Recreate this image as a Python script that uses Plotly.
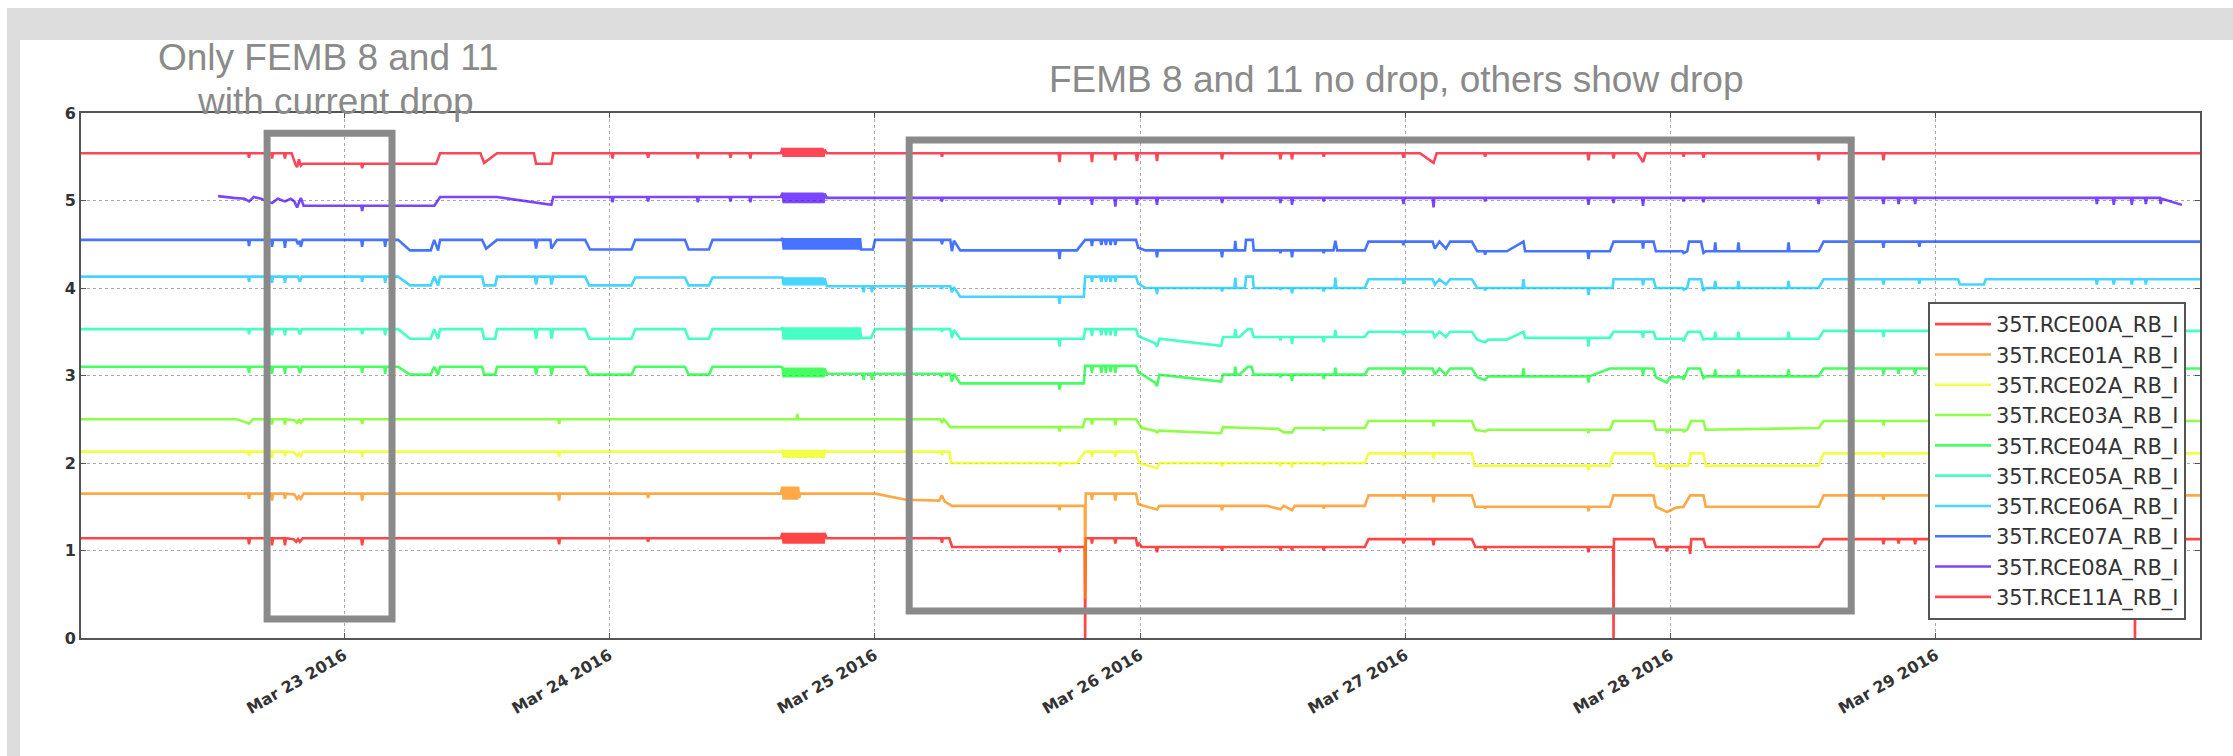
import plotly.graph_objects as go

# ---------------- data ----------------
NAMES = ["35T.RCE00A_RB_I", "35T.RCE01A_RB_I", "35T.RCE02A_RB_I", "35T.RCE03A_RB_I",
         "35T.RCE04A_RB_I", "35T.RCE05A_RB_I", "35T.RCE06A_RB_I", "35T.RCE07A_RB_I",
         "35T.RCE08A_RB_I", "35T.RCE11A_RB_I"]
COLORS = ["#ff0000", "#ff8900", "#ecff00", "#63ff00", "#00ff26",
          "#00ffae", "#00c6ff", "#003eff", "#4800ff", "#ff0018"]

X_TICKS = ["2016-03-23", "2016-03-24", "2016-03-25", "2016-03-26",
           "2016-03-27", "2016-03-28", "2016-03-29"]
X_LABELS = ["Mar 23 2016", "Mar 24 2016", "Mar 25 2016", "Mar 26 2016",
            "Mar 27 2016", "Mar 28 2016", "Mar 29 2016"]
Y_TICKS = [0, 1, 2, 3, 4, 5, 6]

# sample times of the noisy stretch on Mar 24 (6-minute samples)
BURST_T = ["24 15:40", "24 15:46", "24 15:52", "24 15:58", "24 16:04", "24 16:10", "24 16:16",
           "24 16:22", "24 16:28", "24 16:34", "24 16:40", "24 16:46", "24 16:52", "24 16:58",
           "24 17:04", "24 17:10", "24 17:16", "24 17:22", "24 17:28", "24 17:34", "24 17:40",
           "24 17:46", "24 17:52", "24 17:58", "24 18:04", "24 18:10", "24 18:16", "24 18:22",
           "24 18:28", "24 18:34", "24 18:40", "24 18:46", "24 18:52", "24 18:58", "24 19:04",
           "24 19:10", "24 19:16", "24 19:22", "24 19:28"]
BURST_T_LONG = BURST_T + ["24 19:34", "24 19:40", "24 19:46", "24 19:52", "24 19:58", "24 20:04",
                          "24 20:10", "24 20:16", "24 20:22", "24 20:28", "24 20:34", "24 20:40",
                          "24 20:46", "24 20:52", "24 20:58", "24 21:04", "24 21:10", "24 21:16",
                          "24 21:22", "24 21:28", "24 21:34", "24 21:40", "24 21:46", "24 21:52",
                          "24 21:58", "24 22:04", "24 22:10", "24 22:16", "24 22:22", "24 22:28",
                          "24 22:34", "24 22:40", "24 22:46"]

# ---- RCE00A
S00_A = [("22 00:00", 1.14), ("22 15:19", 1.14), ("22 15:24", 1.07), ("22 15:29", 1.14),
         ("22 17:24", 1.14), ("22 17:29", 1.06), ("22 17:34", 1.14), ("22 18:34", 1.14), ("22 18:39", 1.06),
         ("22 18:44", 1.14), ("22 19:25", 1.13), ("22 19:40", 1.10), ("22 19:50", 1.13), ("22 20:00", 1.10),
         ("22 20:15", 1.14), ("23 01:33", 1.14), ("23 01:38", 1.06), ("23 01:43", 1.14),
         ("23 19:22", 1.14), ("23 19:27", 1.07), ("23 19:32", 1.14), ("24 03:25", 1.14), ("24 03:30", 1.10),
         ("24 03:35", 1.14), ("24 15:30", 1.14)]
S00_BURST = [1.20, 1.08, 1.20, 1.08, 1.20, 1.08, 1.20, 1.08, 1.20, 1.08,
             1.20, 1.08, 1.20, 1.08, 1.20, 1.08, 1.20, 1.08, 1.20, 1.08,
             1.20, 1.08, 1.20, 1.08, 1.20, 1.08, 1.20, 1.08, 1.20, 1.08,
             1.20, 1.08, 1.20, 1.08, 1.20, 1.08, 1.20, 1.08, 1.20]
S00_B = [("24 19:40", 1.14), ("25 06:00", 1.14), ("25 06:05", 1.09), ("25 06:10", 1.14),
         ("25 06:45", 1.14), ("25 07:00", 1.04), ("25 16:38", 1.04), ("25 16:43", 0.98), ("25 16:48", 1.04),
         ("25 19:00", 1.04), ("25 19:02", 0.0), ("25 19:05", 1.14), ("25 19:34", 1.14), ("25 19:39", 1.08),
         ("25 19:44", 1.14), ("25 21:41", 1.14), ("25 21:46", 1.08), ("25 21:51", 1.14),
         ("25 23:38", 1.14), ("25 23:45", 1.05), ("25 23:55", 1.08), ("26 00:10", 1.04),
         ("26 01:27", 1.04), ("26 01:32", 0.98), ("26 01:37", 1.04), ("26 07:20", 1.04), ("26 07:25", 1.00),
         ("26 07:30", 1.04), ("26 12:37", 1.04), ("26 12:42", 1.00), ("26 12:47", 1.04),
         ("26 13:40", 1.04), ("26 13:45", 1.00), ("26 13:50", 1.04), ("26 16:32", 1.04), ("26 16:37", 1.00),
         ("26 16:42", 1.04), ("26 20:20", 1.04), ("26 20:40", 1.13), ("26 23:45", 1.13), ("26 23:50", 1.08),
         ("26 23:55", 1.13), ("27 02:28", 1.13), ("27 02:33", 1.06), ("27 02:38", 1.13),
         ("27 06:01", 1.13), ("27 06:20", 1.04), ("27 07:08", 1.04), ("27 07:13", 1.00), ("27 07:18", 1.04),
         ("27 16:29", 1.04), ("27 16:34", 0.98), ("27 16:39", 1.04), ("27 18:48", 1.04), ("27 18:50", 0.0),
         ("27 18:52", 1.13), ("27 22:27", 1.13), ("27 22:40", 1.04), ("27 23:35", 1.04), ("27 23:40", 0.99),
         ("27 23:45", 1.04), ("28 01:40", 1.04), ("28 01:46", 0.96), ("28 01:52", 1.13),
         ("28 02:58", 1.13), ("28 03:10", 1.04), ("28 13:23", 1.04), ("28 13:50", 1.13),
         ("28 19:10", 1.13), ("28 19:15", 1.07), ("28 19:20", 1.13), ("28 20:32", 1.13), ("28 20:37", 1.08),
         ("28 20:42", 1.13), ("28 22:02", 1.13), ("28 22:07", 1.07), ("28 22:12", 1.13),
         ("29 17:58", 1.13), ("29 18:00", 0.0), ("29 18:02", 1.13), ("30 00:00", 1.13)]

# ---- RCE01A
S01_A = [("22 00:00", 1.65), ("22 15:19", 1.65), ("22 15:24", 1.59), ("22 15:29", 1.65),
         ("22 17:24", 1.65), ("22 17:29", 1.57), ("22 17:34", 1.65), ("22 18:34", 1.65), ("22 18:39", 1.59),
         ("22 18:44", 1.65), ("22 19:30", 1.64), ("22 19:45", 1.59), ("22 19:55", 1.62), ("22 20:05", 1.59),
         ("22 20:20", 1.65), ("23 01:33", 1.65), ("23 01:38", 1.57), ("23 01:43", 1.65),
         ("23 19:22", 1.65), ("23 19:27", 1.57), ("23 19:32", 1.65), ("24 03:25", 1.65), ("24 03:30", 1.60),
         ("24 03:35", 1.65), ("24 15:30", 1.65)]
S01_BURST = [1.73, 1.58, 1.73, 1.58, 1.73, 1.58, 1.73, 1.58, 1.73, 1.58,
             1.73, 1.58, 1.73, 1.58, 1.73, 1.60]
S01_B = [("24 17:16", 1.65), ("25 00:02", 1.65), ("25 02:50", 1.58), ("25 05:50", 1.57),
         ("25 06:04", 1.63), ("25 06:20", 1.56), ("25 06:59", 1.51), ("25 16:38", 1.51), ("25 16:43", 1.46),
         ("25 16:48", 1.51), ("25 19:00", 1.51), ("25 19:02", 0.45), ("25 19:05", 1.65),
         ("25 19:34", 1.65), ("25 19:39", 1.58), ("25 19:44", 1.65), ("25 21:41", 1.65), ("25 21:46", 1.57),
         ("25 21:51", 1.65), ("25 23:38", 1.65), ("25 23:50", 1.53), ("26 01:32", 1.47), ("26 01:45", 1.51),
         ("26 07:20", 1.51), ("26 07:25", 1.46), ("26 07:30", 1.51), ("26 11:30", 1.51), ("26 12:42", 1.47),
         ("26 13:00", 1.51), ("26 13:45", 1.46), ("26 14:00", 1.51), ("26 16:32", 1.51), ("26 16:37", 1.48),
         ("26 16:42", 1.51), ("26 20:20", 1.51), ("26 20:40", 1.63), ("26 23:45", 1.63), ("26 23:50", 1.59),
         ("26 23:55", 1.63), ("27 02:28", 1.63), ("27 02:33", 1.55), ("27 02:38", 1.63),
         ("27 06:01", 1.63), ("27 06:20", 1.50), ("27 07:08", 1.50), ("27 07:13", 1.48), ("27 07:18", 1.50),
         ("27 16:29", 1.50), ("27 16:34", 1.45), ("27 16:39", 1.50), ("27 18:30", 1.50), ("27 18:50", 1.63),
         ("27 22:27", 1.63), ("27 22:40", 1.50), ("27 23:40", 1.44), ("28 00:30", 1.49), ("28 01:10", 1.50),
         ("28 01:46", 1.63), ("28 02:58", 1.63), ("28 03:10", 1.50), ("28 13:23", 1.50), ("28 13:50", 1.63),
         ("28 19:10", 1.63), ("28 19:15", 1.58), ("28 19:20", 1.63), ("30 00:00", 1.63)]

# ---- RCE02A
S02_A = [("22 00:00", 2.13), ("22 15:19", 2.13), ("22 15:24", 2.08), ("22 15:29", 2.13),
         ("22 17:24", 2.13), ("22 17:29", 2.06), ("22 17:34", 2.13), ("22 18:34", 2.13), ("22 18:39", 2.08),
         ("22 18:44", 2.13), ("22 19:30", 2.12), ("22 19:45", 2.08), ("22 19:55", 2.11), ("22 20:05", 2.08),
         ("22 20:20", 2.13), ("23 01:33", 2.13), ("23 01:38", 2.07), ("23 01:43", 2.13),
         ("23 19:22", 2.13), ("23 19:27", 2.07), ("23 19:32", 2.13), ("24 15:30", 2.13)]
S02_BURST = [2.15, 2.06, 2.15, 2.06, 2.15, 2.06, 2.15, 2.06, 2.15, 2.06,
             2.15, 2.06, 2.15, 2.06, 2.15, 2.06, 2.15, 2.06, 2.15, 2.06,
             2.15, 2.06, 2.15, 2.06, 2.15, 2.06, 2.15, 2.06, 2.15, 2.06,
             2.15, 2.06, 2.15, 2.06, 2.15, 2.06, 2.15, 2.06, 2.14]
S02_B = [("24 19:40", 2.13), ("25 06:00", 2.13), ("25 06:05", 2.09), ("25 06:10", 2.13),
         ("25 06:45", 2.13), ("25 06:55", 2.00), ("25 16:38", 2.00), ("25 16:43", 1.96), ("25 16:48", 2.00),
         ("25 18:17", 2.00), ("25 19:02", 2.13), ("25 19:34", 2.13), ("25 19:39", 2.07), ("25 19:44", 2.13),
         ("25 21:41", 2.13), ("25 21:46", 2.07), ("25 21:51", 2.13), ("25 23:38", 2.13), ("25 23:55", 2.00),
         ("26 01:32", 1.94), ("26 01:45", 2.00), ("26 07:20", 2.00), ("26 07:25", 1.96), ("26 07:30", 2.00),
         ("26 12:37", 2.00), ("26 12:42", 1.96), ("26 12:47", 2.00), ("26 13:40", 2.00), ("26 13:45", 1.95),
         ("26 13:50", 2.00), ("26 16:32", 2.00), ("26 16:37", 1.97), ("26 16:42", 2.00),
         ("26 20:20", 2.00), ("26 20:40", 2.11), ("26 23:45", 2.11), ("26 23:50", 2.08), ("26 23:55", 2.11),
         ("27 02:28", 2.11), ("27 02:33", 2.05), ("27 02:38", 2.11), ("27 06:01", 2.11), ("27 06:15", 1.97),
         ("27 16:29", 1.97), ("27 16:34", 1.92), ("27 16:39", 1.97), ("27 18:30", 1.97), ("27 18:50", 2.11),
         ("27 22:27", 2.11), ("27 22:40", 1.97), ("27 23:35", 1.97), ("27 23:40", 1.93), ("27 23:50", 1.97),
         ("28 01:35", 1.97), ("28 01:50", 2.11), ("28 02:58", 2.11), ("28 03:10", 1.97),
         ("28 13:23", 1.97), ("28 13:50", 2.11), ("28 19:10", 2.11), ("28 19:15", 2.06), ("28 19:20", 2.11),
         ("30 00:00", 2.11)]

# ---- RCE03A
S03_A = [("22 00:00", 2.50), ("22 14:15", 2.50), ("22 15:00", 2.47), ("22 15:24", 2.45), ("22 15:45", 2.50),
         ("22 17:24", 2.50), ("22 17:29", 2.44), ("22 17:34", 2.50), ("22 18:34", 2.50), ("22 18:39", 2.44),
         ("22 18:44", 2.50), ("22 19:30", 2.49), ("22 19:45", 2.46), ("22 19:55", 2.49), ("22 20:05", 2.46),
         ("22 20:20", 2.50), ("23 01:33", 2.50), ("23 01:38", 2.45), ("23 01:43", 2.50),
         ("23 19:22", 2.50), ("23 19:27", 2.45), ("23 19:32", 2.50), ("24 16:55", 2.50)]
S03_BURST = [2.56]
S03_B = [("24 17:05", 2.50), ("25 05:55", 2.50), ("25 06:04", 2.46), ("25 06:15", 2.50), ("25 06:50", 2.41),
         ("25 16:38", 2.41), ("25 16:43", 2.36), ("25 16:48", 2.41), ("25 18:50", 2.41), ("25 19:02", 2.50),
         ("25 19:34", 2.50), ("25 19:39", 2.44), ("25 19:44", 2.50), ("25 21:41", 2.50), ("25 21:46", 2.43),
         ("25 21:51", 2.50), ("25 23:38", 2.50), ("26 00:10", 2.40), ("26 01:20", 2.37), ("26 01:32", 2.35),
         ("26 01:45", 2.37), ("26 07:20", 2.34), ("26 07:30", 2.41), ("26 12:30", 2.39), ("26 13:00", 2.35),
         ("26 13:45", 2.35), ("26 14:00", 2.40), ("26 16:32", 2.40), ("26 16:37", 2.37), ("26 16:42", 2.40),
         ("26 20:20", 2.40), ("26 20:40", 2.48), ("27 02:28", 2.48), ("27 02:33", 2.42), ("27 02:38", 2.48),
         ("27 06:01", 2.48), ("27 06:20", 2.38), ("27 07:13", 2.36), ("27 07:30", 2.38),
         ("27 16:29", 2.38), ("27 16:34", 2.34), ("27 16:39", 2.38), ("27 18:30", 2.38), ("27 18:50", 2.48),
         ("27 22:27", 2.48), ("27 22:40", 2.38), ("27 23:35", 2.38), ("27 23:40", 2.34), ("27 23:50", 2.38),
         ("28 01:05", 2.38), ("28 01:10", 2.36), ("28 01:30", 2.38), ("28 01:50", 2.48),
         ("28 02:58", 2.48), ("28 03:10", 2.38), ("28 13:23", 2.40), ("28 13:50", 2.48),
         ("28 19:10", 2.48), ("28 19:15", 2.43), ("28 19:20", 2.48), ("30 00:00", 2.48)]

# ---- RCE04A
S04_A = [("22 00:00", 3.10), ("22 15:19", 3.10), ("22 15:24", 3.03), ("22 15:29", 3.10),
         ("22 17:24", 3.10), ("22 17:29", 3.02), ("22 17:34", 3.10), ("22 18:34", 3.10), ("22 18:39", 3.02),
         ("22 18:44", 3.10), ("22 19:50", 3.10), ("22 20:00", 3.03), ("22 20:10", 3.10),
         ("23 01:33", 3.10), ("23 01:38", 3.03), ("23 01:43", 3.10), ("23 03:38", 3.10), ("23 03:43", 3.02),
         ("23 03:48", 3.10), ("23 04:53", 3.10), ("23 05:58", 3.01), ("23 07:50", 3.01), ("23 08:09", 3.10),
         ("23 08:30", 3.01), ("23 08:41", 3.10), ("23 12:29", 3.10), ("23 12:40", 3.01), ("23 13:40", 3.01),
         ("23 13:50", 3.10), ("23 17:15", 3.10), ("23 17:22", 3.01), ("23 17:30", 3.10),
         ("23 18:40", 3.10), ("23 18:45", 3.01), ("23 18:55", 3.10), ("23 21:48", 3.10), ("23 22:10", 3.01),
         ("24 02:00", 3.01), ("24 02:20", 3.10), ("24 06:50", 3.10), ("24 07:10", 3.01), ("24 09:00", 3.01),
         ("24 09:20", 3.10), ("24 15:30", 3.10)]
S04_BURST = [3.09, 2.98, 3.09, 2.98, 3.09, 2.98, 3.09, 2.98, 3.09, 2.98,
             3.09, 2.98, 3.09, 2.98, 3.09, 2.98, 3.09, 2.98, 3.09, 2.98,
             3.09, 2.98, 3.09, 2.98, 3.09, 2.98, 3.09, 2.98, 3.09, 2.98,
             3.09, 2.98, 3.09, 2.98, 3.09, 2.98, 3.09, 2.98, 3.08]
S04_B = [("24 19:40", 3.02), ("24 22:55", 3.02), ("24 23:00", 2.95), ("24 23:05", 3.02),
         ("24 23:40", 3.02), ("24 23:45", 2.95), ("24 23:50", 3.02), ("25 06:00", 3.02), ("25 06:05", 2.98),
         ("25 06:10", 3.02), ("25 06:50", 3.02), ("25 06:59", 2.93), ("25 07:10", 3.02), ("25 07:44", 2.91),
         ("25 16:38", 2.91), ("25 16:43", 2.84), ("25 16:48", 2.91), ("25 18:55", 2.91), ("25 19:02", 3.11),
         ("25 19:34", 3.11), ("25 19:39", 3.03), ("25 19:44", 3.11), ("25 20:25", 3.11), ("25 20:30", 3.03),
         ("25 20:35", 3.11), ("25 20:50", 3.11), ("25 20:55", 3.03), ("25 21:00", 3.11),
         ("25 21:15", 3.11), ("25 21:20", 3.04), ("25 21:25", 3.11), ("25 21:41", 3.11), ("25 21:46", 3.03),
         ("25 21:51", 3.11), ("25 23:38", 3.11), ("25 23:50", 3.04), ("26 01:20", 2.92), ("26 01:32", 2.88),
         ("26 01:45", 3.01), ("26 07:20", 2.93), ("26 07:30", 3.01), ("26 08:32", 3.01), ("26 08:37", 3.10),
         ("26 08:42", 3.01), ("26 09:00", 3.01), ("26 09:45", 3.10), ("26 10:05", 3.10), ("26 10:17", 3.01),
         ("26 12:37", 3.01), ("26 12:42", 2.98), ("26 12:47", 3.01), ("26 13:40", 3.01), ("26 13:45", 2.94),
         ("26 13:50", 3.01), ("26 16:32", 3.01), ("26 16:37", 2.96), ("26 16:42", 3.01),
         ("26 17:35", 3.01), ("26 17:40", 3.09), ("26 17:45", 3.01), ("26 20:20", 3.01), ("26 20:40", 3.08),
         ("26 23:45", 3.08), ("26 23:50", 3.01), ("26 23:55", 3.08), ("27 02:28", 3.08), ("27 02:40", 3.01),
         ("27 03:05", 3.08), ("27 03:40", 3.01), ("27 04:03", 3.08), ("27 06:01", 3.08), ("27 06:30", 2.98),
         ("27 07:13", 2.95), ("27 07:30", 2.99), ("27 10:36", 2.99), ("27 10:41", 3.08), ("27 10:46", 2.99),
         ("27 16:29", 2.99), ("27 16:34", 2.92), ("27 16:39", 2.99), ("27 18:30", 3.08),
         ("27 21:25", 3.08), ("27 21:30", 3.00), ("27 21:35", 3.08), ("27 22:27", 3.08), ("27 22:40", 2.98),
         ("27 23:40", 2.92), ("27 23:55", 2.98), ("28 01:05", 2.98), ("28 01:10", 2.95), ("28 01:15", 2.98),
         ("28 01:35", 3.08), ("28 02:40", 3.08), ("28 02:58", 2.97), ("28 03:10", 2.99),
         ("28 03:57", 2.99), ("28 04:02", 3.07), ("28 04:07", 2.99), ("28 06:03", 2.99), ("28 06:08", 3.07),
         ("28 06:13", 2.99), ("28 10:35", 2.99), ("28 10:40", 3.07), ("28 10:45", 2.99),
         ("28 13:23", 2.99), ("28 13:50", 3.08), ("28 19:10", 3.08), ("28 19:15", 3.01), ("28 19:20", 3.08),
         ("28 20:32", 3.08), ("28 20:37", 3.02), ("28 20:42", 3.08), ("28 22:02", 3.08), ("28 22:07", 3.01),
         ("28 22:12", 3.08), ("30 00:00", 3.08)]

# ---- RCE05A
S05_A = [("22 00:00", 3.53), ("22 15:19", 3.53), ("22 15:24", 3.47), ("22 15:29", 3.53),
         ("22 17:24", 3.53), ("22 17:29", 3.46), ("22 17:34", 3.53), ("22 18:34", 3.53), ("22 18:39", 3.46),
         ("22 18:44", 3.53), ("22 19:50", 3.53), ("22 20:00", 3.47), ("22 20:10", 3.53),
         ("23 01:33", 3.53), ("23 01:38", 3.47), ("23 01:43", 3.53), ("23 03:38", 3.53), ("23 03:43", 3.46),
         ("23 03:48", 3.53), ("23 04:53", 3.53), ("23 05:58", 3.42), ("23 07:50", 3.42), ("23 08:09", 3.53),
         ("23 08:30", 3.42), ("23 08:41", 3.53), ("23 12:29", 3.53), ("23 12:40", 3.42), ("23 13:40", 3.42),
         ("23 13:50", 3.53), ("23 17:15", 3.53), ("23 17:22", 3.42), ("23 17:30", 3.53),
         ("23 18:40", 3.53), ("23 18:45", 3.42), ("23 18:55", 3.53), ("23 21:48", 3.53), ("23 22:10", 3.42),
         ("24 02:00", 3.42), ("24 02:20", 3.53), ("24 06:50", 3.53), ("24 07:10", 3.42), ("24 09:00", 3.42),
         ("24 09:20", 3.53), ("24 15:30", 3.53)]
S05_BURST = [3.55, 3.41, 3.55, 3.41, 3.55, 3.41, 3.55, 3.41, 3.55, 3.41,
             3.55, 3.41, 3.55, 3.41, 3.55, 3.41, 3.55, 3.41, 3.55, 3.41,
             3.55, 3.41, 3.55, 3.41, 3.55, 3.41, 3.55, 3.41, 3.55, 3.41,
             3.55, 3.41, 3.55, 3.41, 3.55, 3.41, 3.55, 3.41, 3.55, 3.41,
             3.55, 3.41, 3.55, 3.41, 3.55, 3.41, 3.55, 3.41, 3.55, 3.41,
             3.55, 3.41, 3.55, 3.41, 3.55, 3.41, 3.55, 3.41, 3.55, 3.41,
             3.55, 3.41, 3.55, 3.41, 3.55, 3.41, 3.55, 3.41, 3.55, 3.41,
             3.55, 3.43]
S05_B = [("24 23:00", 3.43), ("24 23:40", 3.43), ("25 00:02", 3.53), ("25 06:00", 3.53), ("25 06:05", 3.50),
         ("25 06:10", 3.53), ("25 06:50", 3.53), ("25 06:59", 3.43), ("25 07:10", 3.52), ("25 07:44", 3.42),
         ("25 16:38", 3.42), ("25 16:43", 3.33), ("25 16:48", 3.42), ("25 18:55", 3.42), ("25 19:02", 3.53),
         ("25 19:34", 3.53), ("25 19:39", 3.45), ("25 19:44", 3.53), ("25 20:25", 3.53), ("25 20:30", 3.46),
         ("25 20:35", 3.53), ("25 20:50", 3.53), ("25 20:55", 3.46), ("25 21:00", 3.53),
         ("25 21:15", 3.53), ("25 21:20", 3.46), ("25 21:25", 3.53), ("25 21:41", 3.53), ("25 21:46", 3.45),
         ("25 21:51", 3.53), ("25 23:38", 3.53), ("25 23:50", 3.45), ("26 01:20", 3.37), ("26 01:32", 3.33),
         ("26 01:45", 3.42), ("26 07:20", 3.34), ("26 07:30", 3.44), ("26 08:32", 3.44), ("26 08:37", 3.53),
         ("26 08:42", 3.44), ("26 09:00", 3.44), ("26 09:45", 3.53), ("26 10:05", 3.53), ("26 10:17", 3.44),
         ("26 12:37", 3.44), ("26 12:42", 3.40), ("26 12:47", 3.44), ("26 13:40", 3.44), ("26 13:45", 3.36),
         ("26 13:50", 3.44), ("26 16:32", 3.44), ("26 16:37", 3.38), ("26 16:42", 3.44),
         ("26 17:35", 3.44), ("26 17:40", 3.52), ("26 17:45", 3.44), ("26 20:20", 3.44), ("26 20:40", 3.50),
         ("26 23:45", 3.50), ("26 23:50", 3.46), ("26 23:55", 3.50), ("27 02:28", 3.50), ("27 02:40", 3.44),
         ("27 03:05", 3.50), ("27 03:40", 3.44), ("27 04:03", 3.50), ("27 06:01", 3.50), ("27 06:30", 3.41),
         ("27 07:13", 3.38), ("27 07:30", 3.41), ("27 09:11", 3.41), ("27 10:41", 3.50), ("27 10:50", 3.43),
         ("27 16:29", 3.43), ("27 16:34", 3.33), ("27 16:39", 3.43), ("27 18:30", 3.43), ("27 18:50", 3.50),
         ("27 21:25", 3.50), ("27 21:30", 3.43), ("27 21:35", 3.50), ("27 22:27", 3.50), ("27 22:40", 3.42),
         ("28 01:05", 3.42), ("28 01:10", 3.39), ("28 01:15", 3.42), ("28 01:35", 3.50), ("28 02:40", 3.50),
         ("28 02:58", 3.41), ("28 03:10", 3.42), ("28 03:57", 3.42), ("28 04:02", 3.50), ("28 04:07", 3.42),
         ("28 06:03", 3.42), ("28 06:08", 3.50), ("28 06:13", 3.42), ("28 10:35", 3.42), ("28 10:40", 3.50),
         ("28 10:45", 3.42), ("28 13:23", 3.42), ("28 13:50", 3.51), ("28 19:10", 3.51), ("28 19:15", 3.44),
         ("28 19:20", 3.51), ("30 00:00", 3.51)]

# ---- RCE06A
S06_A = [("22 00:00", 4.13), ("22 15:19", 4.13), ("22 15:24", 4.07), ("22 15:29", 4.13),
         ("22 17:24", 4.13), ("22 17:29", 4.06), ("22 17:34", 4.13), ("22 18:34", 4.13), ("22 18:39", 4.06),
         ("22 18:44", 4.13), ("22 19:50", 4.13), ("22 20:00", 4.07), ("22 20:10", 4.13),
         ("23 01:33", 4.13), ("23 01:38", 4.07), ("23 01:43", 4.13), ("23 03:38", 4.13), ("23 03:43", 4.06),
         ("23 03:48", 4.13), ("23 04:53", 4.13), ("23 05:58", 4.03), ("23 07:50", 4.03), ("23 08:09", 4.13),
         ("23 08:30", 4.03), ("23 08:41", 4.13), ("23 12:29", 4.13), ("23 12:40", 4.03), ("23 13:40", 4.03),
         ("23 13:50", 4.13), ("23 17:15", 4.13), ("23 17:22", 4.04), ("23 17:30", 4.13),
         ("23 18:40", 4.13), ("23 18:45", 4.04), ("23 18:55", 4.13), ("23 21:48", 4.13), ("23 22:10", 4.03),
         ("24 02:00", 4.03), ("24 02:20", 4.12), ("24 06:50", 4.12), ("24 07:10", 4.03), ("24 09:00", 4.03),
         ("24 09:20", 4.12), ("24 15:30", 4.12)]
S06_BURST = [4.12, 4.03, 4.12, 4.03, 4.12, 4.03, 4.12, 4.03, 4.12, 4.03,
             4.12, 4.03, 4.12, 4.03, 4.12, 4.03, 4.12, 4.03, 4.12, 4.03,
             4.12, 4.03, 4.12, 4.03, 4.12, 4.03, 4.12, 4.03, 4.12, 4.03,
             4.12, 4.03, 4.12, 4.03, 4.12, 4.03, 4.12, 4.03, 4.11]
S06_B = [("24 19:40", 4.02), ("24 22:55", 4.02), ("24 23:00", 3.95), ("24 23:05", 4.02),
         ("24 23:40", 4.02), ("24 23:45", 3.95), ("24 23:50", 4.02), ("25 06:00", 4.02), ("25 06:05", 3.99),
         ("25 06:10", 4.02), ("25 06:50", 4.02), ("25 06:59", 3.95), ("25 07:10", 4.01), ("25 07:44", 3.90),
         ("25 16:38", 3.90), ("25 16:43", 3.82), ("25 16:48", 3.90), ("25 18:55", 3.90), ("25 19:02", 4.13),
         ("25 19:34", 4.13), ("25 19:39", 4.07), ("25 19:44", 4.13), ("25 20:25", 4.13), ("25 20:30", 4.07),
         ("25 20:35", 4.13), ("25 20:50", 4.13), ("25 20:55", 4.07), ("25 21:00", 4.13),
         ("25 21:15", 4.13), ("25 21:20", 4.07), ("25 21:25", 4.13), ("25 21:41", 4.13), ("25 21:46", 4.07),
         ("25 21:51", 4.13), ("25 23:38", 4.13), ("25 23:50", 4.05), ("26 00:30", 4.00), ("26 01:27", 4.00),
         ("26 01:32", 3.93), ("26 01:37", 4.00), ("26 07:20", 4.00), ("26 07:25", 3.96), ("26 07:30", 4.00),
         ("26 08:32", 4.00), ("26 08:37", 4.12), ("26 08:42", 4.00), ("26 09:30", 4.00), ("26 09:35", 4.13),
         ("26 10:12", 4.13), ("26 10:17", 4.00), ("26 12:37", 4.00), ("26 12:42", 3.98), ("26 12:47", 4.00),
         ("26 13:40", 4.00), ("26 13:45", 3.94), ("26 13:50", 4.00), ("26 16:32", 4.00), ("26 16:37", 3.96),
         ("26 16:42", 4.00), ("26 17:35", 4.00), ("26 17:40", 4.12), ("26 17:45", 4.00),
         ("26 20:20", 4.00), ("26 20:40", 4.10), ("26 23:45", 4.10), ("26 23:50", 4.05), ("26 23:55", 4.10),
         ("27 02:28", 4.10), ("27 02:40", 4.04), ("27 03:05", 4.10), ("27 03:40", 4.04), ("27 04:03", 4.10),
         ("27 06:01", 4.10), ("27 06:30", 4.00), ("27 07:08", 4.00), ("27 07:13", 3.97), ("27 07:18", 4.00),
         ("27 10:36", 4.00), ("27 10:41", 4.10), ("27 10:46", 4.00), ("27 16:29", 4.00), ("27 16:34", 3.92),
         ("27 16:39", 4.00), ("27 18:45", 4.00), ("27 18:50", 4.10), ("27 21:25", 4.10), ("27 21:30", 4.03),
         ("27 21:35", 4.10), ("27 22:27", 4.10), ("27 22:40", 4.00), ("28 01:05", 4.00), ("28 01:10", 3.98),
         ("28 01:30", 4.00), ("28 01:40", 4.10), ("28 02:45", 4.10), ("28 02:58", 3.97), ("28 03:10", 4.00),
         ("28 03:57", 4.00), ("28 04:02", 4.08), ("28 04:07", 4.00), ("28 06:03", 4.00), ("28 06:08", 4.08),
         ("28 06:13", 4.00), ("28 10:35", 4.00), ("28 10:40", 4.08), ("28 10:45", 4.00),
         ("28 13:23", 4.00), ("28 13:50", 4.10), ("28 19:10", 4.10), ("28 19:15", 4.04), ("28 19:20", 4.10),
         ("28 22:25", 4.10), ("28 22:30", 4.05), ("28 22:35", 4.10), ("29 02:00", 4.10), ("29 02:10", 4.04),
         ("29 04:20", 4.04), ("29 04:30", 4.10), ("29 14:28", 4.10), ("29 14:33", 4.04), ("29 14:38", 4.10),
         ("29 16:00", 4.10), ("29 16:05", 4.04), ("29 16:10", 4.10), ("29 17:38", 4.10), ("29 17:43", 4.04),
         ("29 17:48", 4.10), ("29 18:54", 4.10), ("29 18:59", 4.04), ("29 19:04", 4.10), ("30 00:00", 4.10)]

# ---- RCE07A
S07_A = [("22 00:00", 4.55), ("22 15:19", 4.55), ("22 15:24", 4.48), ("22 15:29", 4.55),
         ("22 17:24", 4.55), ("22 17:29", 4.47), ("22 17:34", 4.55), ("22 18:34", 4.55), ("22 18:39", 4.46),
         ("22 18:44", 4.55), ("22 19:40", 4.55), ("22 19:50", 4.50), ("22 20:00", 4.54), ("22 20:05", 4.47),
         ("22 20:15", 4.55), ("23 01:33", 4.55), ("23 01:38", 4.47), ("23 01:43", 4.55),
         ("23 03:38", 4.55), ("23 03:43", 4.47), ("23 03:48", 4.55), ("23 04:53", 4.55), ("23 05:58", 4.43),
         ("23 07:50", 4.43), ("23 08:09", 4.55), ("23 08:30", 4.43), ("23 08:41", 4.55),
         ("23 12:29", 4.55), ("23 12:51", 4.45), ("23 13:50", 4.55), ("23 17:15", 4.55), ("23 17:22", 4.45),
         ("23 17:30", 4.55), ("23 18:40", 4.55), ("23 18:45", 4.45), ("23 19:16", 4.55),
         ("23 21:48", 4.55), ("23 22:15", 4.44), ("24 02:00", 4.44), ("24 02:20", 4.55), ("24 06:50", 4.55),
         ("24 07:10", 4.44), ("24 09:00", 4.44), ("24 09:20", 4.55), ("24 15:30", 4.55)]
S07_BURST = [4.57, 4.44, 4.57, 4.44, 4.57, 4.44, 4.57, 4.44, 4.57, 4.44,
             4.57, 4.44, 4.57, 4.44, 4.57, 4.44, 4.57, 4.44, 4.57, 4.44,
             4.57, 4.44, 4.57, 4.44, 4.57, 4.44, 4.57, 4.44, 4.57, 4.44,
             4.57, 4.44, 4.57, 4.44, 4.57, 4.44, 4.57, 4.44, 4.57, 4.44,
             4.57, 4.44, 4.57, 4.44, 4.57, 4.44, 4.57, 4.44, 4.57, 4.44,
             4.57, 4.44, 4.57, 4.44, 4.57, 4.44, 4.57, 4.44, 4.57, 4.44,
             4.57, 4.44, 4.57, 4.44, 4.57, 4.44, 4.57, 4.44, 4.57, 4.44,
             4.57, 4.44]
S07_B = [("24 23:00", 4.44), ("24 23:50", 4.44), ("25 00:02", 4.55), ("25 06:00", 4.55), ("25 06:05", 4.50),
         ("25 06:10", 4.55), ("25 06:50", 4.55), ("25 06:59", 4.42), ("25 07:10", 4.54), ("25 07:44", 4.43),
         ("25 16:38", 4.43), ("25 16:43", 4.33), ("25 16:48", 4.43), ("25 18:17", 4.43), ("25 19:02", 4.55),
         ("25 19:34", 4.55), ("25 19:39", 4.48), ("25 19:44", 4.55), ("25 20:25", 4.55), ("25 20:30", 4.49),
         ("25 20:35", 4.55), ("25 20:50", 4.55), ("25 20:55", 4.49), ("25 21:00", 4.55),
         ("25 21:15", 4.55), ("25 21:20", 4.49), ("25 21:25", 4.55), ("25 21:41", 4.55), ("25 21:46", 4.49),
         ("25 21:51", 4.55), ("25 23:38", 4.55), ("25 23:50", 4.46), ("26 00:30", 4.43), ("26 01:27", 4.43),
         ("26 01:32", 4.35), ("26 01:37", 4.43), ("26 07:20", 4.43), ("26 07:25", 4.35), ("26 07:30", 4.43),
         ("26 08:32", 4.43), ("26 08:37", 4.54), ("26 08:42", 4.43), ("26 09:30", 4.43), ("26 09:35", 4.55),
         ("26 10:12", 4.55), ("26 10:17", 4.43), ("26 12:37", 4.43), ("26 12:42", 4.40), ("26 12:47", 4.43),
         ("26 13:40", 4.43), ("26 13:45", 4.35), ("26 13:50", 4.43), ("26 16:32", 4.43), ("26 16:37", 4.40),
         ("26 16:42", 4.43), ("26 17:30", 4.43), ("26 17:40", 4.54), ("26 17:50", 4.43),
         ("26 20:20", 4.43), ("26 20:40", 4.53), ("26 23:45", 4.53), ("26 23:50", 4.49), ("26 23:55", 4.53),
         ("27 02:28", 4.53), ("27 02:40", 4.45), ("27 03:05", 4.53), ("27 03:40", 4.45), ("27 04:03", 4.53),
         ("27 06:01", 4.53), ("27 06:30", 4.42), ("27 07:08", 4.42), ("27 07:13", 4.38), ("27 07:18", 4.42),
         ("27 09:11", 4.42), ("27 10:41", 4.53), ("27 10:50", 4.42), ("27 16:29", 4.42), ("27 16:34", 4.33),
         ("27 16:39", 4.42), ("27 18:30", 4.42), ("27 18:50", 4.53), ("27 21:25", 4.53), ("27 21:30", 4.45),
         ("27 21:35", 4.53), ("27 22:27", 4.53), ("27 22:40", 4.42), ("28 01:05", 4.42), ("28 01:10", 4.40),
         ("28 01:30", 4.42), ("28 01:40", 4.53), ("28 02:45", 4.53), ("28 02:58", 4.40), ("28 03:10", 4.42),
         ("28 03:57", 4.42), ("28 04:02", 4.52), ("28 04:07", 4.42), ("28 06:03", 4.42), ("28 06:08", 4.52),
         ("28 06:13", 4.42), ("28 10:35", 4.42), ("28 10:40", 4.52), ("28 10:45", 4.42),
         ("28 13:23", 4.42), ("28 13:50", 4.53), ("28 19:10", 4.53), ("28 19:15", 4.46), ("28 19:20", 4.53),
         ("28 22:25", 4.53), ("28 22:30", 4.47), ("28 22:35", 4.53), ("30 00:00", 4.53)]

# ---- RCE08A
S08_A = [("22 12:36", 5.05), ("22 14:00", 5.03), ("22 15:00", 5.02), ("22 15:24", 4.99), ("22 15:50", 5.04),
         ("22 16:30", 5.02), ("22 17:29", 4.97), ("22 18:00", 5.02), ("22 18:39", 4.99), ("22 19:10", 5.02),
         ("22 19:30", 4.99), ("22 19:45", 4.92), ("22 20:05", 5.03), ("22 20:20", 4.94),
         ("23 01:33", 4.94), ("23 01:38", 4.88), ("23 01:43", 4.94), ("23 08:10", 4.94), ("23 08:41", 5.04),
         ("23 13:50", 5.04), ("23 18:45", 4.95), ("23 18:55", 5.04), ("24 00:12", 5.04), ("24 00:17", 4.98),
         ("24 00:22", 5.04), ("24 03:25", 5.04), ("24 03:30", 4.99), ("24 03:35", 5.04),
         ("24 07:55", 5.04), ("24 08:00", 4.98), ("24 08:05", 5.04), ("24 10:52", 5.04), ("24 10:57", 4.99),
         ("24 11:02", 5.04), ("24 12:40", 5.04), ("24 12:45", 4.98), ("24 12:50", 5.04), ("24 15:30", 5.04)]
S08_BURST = [5.09, 4.97, 5.09, 4.97, 5.09, 4.97, 5.09, 4.97, 5.09, 4.97,
             5.09, 4.97, 5.09, 4.97, 5.09, 4.97, 5.09, 4.97, 5.09, 4.97,
             5.09, 4.97, 5.09, 4.97, 5.09, 4.97, 5.09, 4.97, 5.09, 4.97,
             5.09, 4.97, 5.09, 4.97, 5.09, 4.97, 5.09, 4.97, 5.08]
S08_B = [("24 19:40", 5.03), ("25 06:00", 5.03), ("25 06:04", 4.99), ("25 06:10", 5.03),
         ("25 16:38", 5.03), ("25 16:43", 4.95), ("25 16:48", 5.03), ("25 19:34", 5.03), ("25 19:39", 4.95),
         ("25 19:44", 5.03), ("25 21:41", 5.03), ("25 21:46", 4.93), ("25 21:51", 5.03),
         ("25 23:38", 5.03), ("25 23:43", 4.95), ("25 23:48", 5.03), ("26 01:27", 5.03), ("26 01:32", 4.95),
         ("26 01:37", 5.03), ("26 07:20", 5.03), ("26 07:25", 4.97), ("26 07:30", 5.03),
         ("26 12:37", 5.03), ("26 12:42", 4.97), ("26 12:47", 5.03), ("26 13:40", 5.03), ("26 13:45", 4.95),
         ("26 13:50", 5.03), ("26 16:32", 5.03), ("26 16:37", 4.99), ("26 16:42", 5.03),
         ("26 23:45", 5.03), ("26 23:50", 4.96), ("26 23:55", 5.03), ("27 02:28", 5.03), ("27 02:33", 4.92),
         ("27 02:38", 5.03), ("27 07:08", 5.03), ("27 07:13", 4.99), ("27 07:18", 5.03),
         ("27 16:29", 5.03), ("27 16:34", 4.95), ("27 16:39", 5.03), ("27 18:45", 5.03), ("27 18:50", 4.97),
         ("27 18:55", 5.03), ("27 21:25", 5.03), ("27 21:30", 4.94), ("27 21:35", 5.03),
         ("28 01:05", 5.03), ("28 01:10", 4.99), ("28 01:15", 5.03), ("28 02:53", 5.03), ("28 02:58", 4.98),
         ("28 03:03", 5.03), ("28 13:18", 5.03), ("28 13:23", 4.96), ("28 13:28", 5.03),
         ("28 19:10", 5.03), ("28 19:15", 4.96), ("28 19:20", 5.03), ("28 20:32", 5.03), ("28 20:37", 4.96),
         ("28 20:42", 5.03), ("28 22:02", 5.03), ("28 22:07", 4.96), ("28 22:12", 5.03),
         ("29 14:28", 5.03), ("29 14:33", 4.96), ("29 14:38", 5.03), ("29 16:00", 5.03), ("29 16:05", 4.95),
         ("29 16:10", 5.03), ("29 17:38", 5.03), ("29 17:43", 4.95), ("29 17:48", 5.03),
         ("29 18:54", 5.03), ("29 18:59", 4.96), ("29 19:04", 5.03), ("29 20:15", 5.03), ("29 20:20", 4.96),
         ("29 20:25", 5.02), ("29 22:15", 4.95)]

# ---- RCE11A
S11_A = [("22 00:00", 5.54), ("22 15:19", 5.54), ("22 15:24", 5.49), ("22 15:29", 5.54),
         ("22 17:24", 5.54), ("22 17:29", 5.48), ("22 17:34", 5.54), ("22 18:34", 5.54), ("22 18:39", 5.48),
         ("22 18:44", 5.54), ("22 19:15", 5.54), ("22 19:35", 5.42), ("22 19:45", 5.38), ("22 19:55", 5.47),
         ("22 20:05", 5.40), ("22 20:15", 5.42), ("23 01:33", 5.42), ("23 01:38", 5.37), ("23 01:43", 5.42),
         ("23 08:20", 5.42), ("23 08:41", 5.54), ("23 12:20", 5.54), ("23 12:40", 5.43), ("23 13:50", 5.54),
         ("23 17:10", 5.54), ("23 17:22", 5.42), ("23 18:45", 5.42), ("23 18:55", 5.54),
         ("24 00:12", 5.54), ("24 00:17", 5.48), ("24 00:22", 5.54), ("24 03:25", 5.54), ("24 03:30", 5.49),
         ("24 03:35", 5.54), ("24 07:55", 5.54), ("24 08:00", 5.48), ("24 08:05", 5.54),
         ("24 10:52", 5.54), ("24 10:57", 5.49), ("24 11:02", 5.54), ("24 12:40", 5.54), ("24 12:45", 5.48),
         ("24 12:50", 5.54), ("24 15:30", 5.54)]
S11_BURST = [5.60, 5.50, 5.60, 5.50, 5.60, 5.50, 5.60, 5.50, 5.60, 5.50,
             5.60, 5.50, 5.60, 5.50, 5.60, 5.50, 5.60, 5.50, 5.60, 5.50,
             5.60, 5.50, 5.60, 5.50, 5.60, 5.50, 5.60, 5.50, 5.60, 5.50,
             5.60, 5.50, 5.60, 5.50, 5.60, 5.50, 5.60, 5.50, 5.58]
S11_B = [("24 19:40", 5.54), ("25 06:00", 5.54), ("25 06:05", 5.50), ("25 06:10", 5.54),
         ("25 16:38", 5.54), ("25 16:43", 5.44), ("25 16:48", 5.54), ("25 19:34", 5.54), ("25 19:39", 5.44),
         ("25 19:44", 5.54), ("25 21:41", 5.54), ("25 21:46", 5.46), ("25 21:51", 5.54),
         ("25 23:38", 5.54), ("25 23:43", 5.45), ("25 23:50", 5.54), ("26 01:27", 5.54), ("26 01:32", 5.45),
         ("26 01:37", 5.54), ("26 07:20", 5.54), ("26 07:25", 5.47), ("26 07:30", 5.54),
         ("26 12:37", 5.54), ("26 12:42", 5.47), ("26 12:47", 5.54), ("26 13:40", 5.54), ("26 13:45", 5.47),
         ("26 13:50", 5.54), ("26 16:32", 5.54), ("26 16:37", 5.50), ("26 16:42", 5.54),
         ("26 23:45", 5.54), ("26 23:50", 5.49), ("26 23:55", 5.54), ("27 01:20", 5.54), ("27 02:33", 5.43),
         ("27 02:50", 5.54), ("27 07:08", 5.54), ("27 07:13", 5.50), ("27 07:18", 5.54),
         ("27 16:29", 5.54), ("27 16:34", 5.46), ("27 16:39", 5.54), ("27 18:45", 5.54), ("27 18:50", 5.48),
         ("27 18:55", 5.54), ("27 21:00", 5.54), ("27 21:30", 5.44), ("27 21:45", 5.54),
         ("28 01:05", 5.54), ("28 01:10", 5.50), ("28 01:15", 5.54), ("28 02:53", 5.54), ("28 02:58", 5.49),
         ("28 03:03", 5.54), ("28 13:18", 5.54), ("28 13:23", 5.46), ("28 13:28", 5.54),
         ("28 19:10", 5.54), ("28 19:15", 5.46), ("28 19:20", 5.54), ("30 00:00", 5.54)]

SERIES = [(S00_A, S00_BURST, BURST_T, S00_B), (S01_A, S01_BURST, BURST_T, S01_B),
          (S02_A, S02_BURST, BURST_T, S02_B), (S03_A, S03_BURST, ["24 17:00"], S03_B),
          (S04_A, S04_BURST, BURST_T, S04_B), (S05_A, S05_BURST, BURST_T_LONG, S05_B),
          (S06_A, S06_BURST, BURST_T, S06_B), (S07_A, S07_BURST, BURST_T_LONG, S07_B),
          (S08_A, S08_BURST, BURST_T, S08_B), (S11_A, S11_BURST, BURST_T, S11_B)]

# ---------------- figure ----------------
W, H = 2233, 756
ML, MR, MT, MB = 81, 33, 113, 118
PW, PH = W - ML - MR, H - MT - MB


def px(x):
    return (x - ML) / PW


def py(y):
    return (H - MB - y) / PH


def ts(s):
    return "2016-03-" + s


fig = go.Figure()
for name, color, (pre, bvals, btimes, post) in zip(NAMES, COLORS, SERIES):
    pts = list(pre) + list(zip(btimes[:len(bvals)], bvals)) + list(post)
    fig.add_trace(go.Scatter(
        x=[ts(t) for t, _ in pts], y=[v for _, v in pts], mode="lines", name=name,
        line=dict(color=color, width=2.6, simplify=False), opacity=0.72))

BOX_COLOR = "#8a8a8a"
shapes = [
    dict(type="rect", xref="paper", yref="paper", x0=px(7), x1=px(W + 5), y0=py(40), y1=py(8),
         fillcolor="#dddddd", line=dict(width=0), layer="below"),
    dict(type="rect", xref="paper", yref="paper", x0=px(7), x1=px(20), y0=py(H + 5), y1=py(8),
         fillcolor="#dddddd", line=dict(width=0), layer="below"),
    dict(type="rect", xref="x", yref="y", x0="2016-03-22 17:02", x1="2016-03-23 04:20",
         y0=0.217, y1=5.77, line=dict(color=BOX_COLOR, width=7)),
    dict(type="rect", xref="x", yref="y", x0="2016-03-25 03:07", x1="2016-03-28 16:20",
         y0=0.31, y1=5.69, line=dict(color=BOX_COLOR, width=7)),
]

ANN_FONT = dict(family="Liberation Sans, Arial, sans-serif", size=37, color="#8a8a8a")
annotations = [
    dict(text="Only FEMB 8 and 11", xref="paper", yref="paper", x=px(328), y=py(58),
         xanchor="center", yanchor="middle", showarrow=False, font=ANN_FONT),
    dict(text="with current drop", xref="paper", yref="paper", x=px(335), y=py(102),
         xanchor="center", yanchor="middle", showarrow=False, font=ANN_FONT),
    dict(text="FEMB 8 and 11 no drop, others show drop", xref="paper", yref="paper",
         x=px(1396), y=py(80), xanchor="center", yanchor="middle", showarrow=False, font=ANN_FONT),
]

TICK_FONT = dict(family="DejaVu Sans", size=16, color="#333333", weight="bold")

fig.update_layout(
    width=W, height=H, autosize=False,
    margin=dict(l=ML, r=MR, t=MT, b=MB, pad=0),
    paper_bgcolor="white", plot_bgcolor="white",
    shapes=shapes, annotations=annotations,
    showlegend=True,
    legend=dict(x=px(1928), y=py(302), xanchor="left", yanchor="top",
                bgcolor="white", bordercolor="#555555", borderwidth=2,
                font=dict(family="DejaVu Sans", size=21, color="#333333"),
                itemwidth=56, tracegroupgap=0),
    xaxis=dict(type="date", range=["2016-03-22 00:12", "2016-03-29 23:53"],
               tickmode="array", tickvals=X_TICKS, ticktext=X_LABELS, tickangle=-30,
               tickfont=TICK_FONT,
               showgrid=True, gridcolor="#aaaaaa", griddash="dot", gridwidth=1,
               showline=True, linecolor="#555555", linewidth=2, mirror="allticks",
               ticks="inside", ticklen=5, tickcolor="#555555", zeroline=False),
    yaxis=dict(range=[0, 6], tickmode="array", tickvals=Y_TICKS,
               ticktext=[str(v) for v in Y_TICKS],
               tickfont=TICK_FONT,
               showgrid=True, gridcolor="#aaaaaa", griddash="dot", gridwidth=1,
               showline=True, linecolor="#555555", linewidth=2, mirror="allticks",
               ticks="inside", ticklen=5, tickcolor="#555555", zeroline=False),
)

fig.write_html("out.html")
